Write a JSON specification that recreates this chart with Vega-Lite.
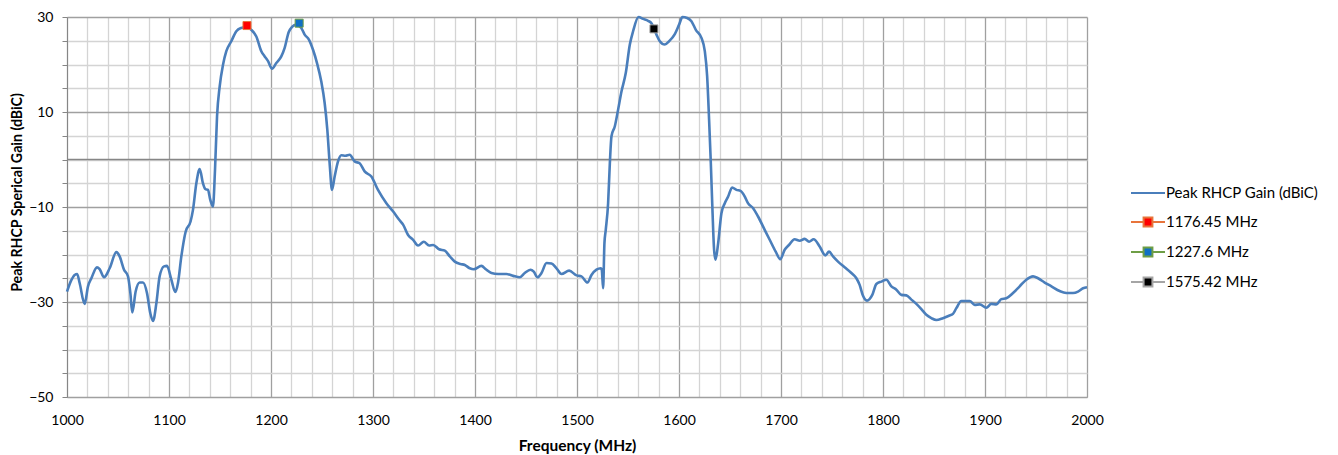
{
  "$schema": "https://vega.github.io/schema/vega-lite/v6.json",
  "width": 1020,
  "height": 380,
  "autosize": {"type": "none"},
  "padding": {"left": 67, "top": 17, "right": 251, "bottom": 58},
  "background": "white",
  "config": {
    "font": "Lato",
    "view": {"stroke": null},
    "axis": {"labelFont": "Lato", "labelFontSize": 14, "labelColor": "#000000", "titleFont": "Lato", "titleFontWeight": "bold", "titleColor": "#000000"}
  },
  "datasets": {
    "gain": [
      {"f":1000,"g":-27.8},{"f":1004,"g":-25.5},{"f":1007.5,"g":-24.3},{"f":1010,"g":-24.1},{"f":1012.4,"g":-26.0},{"f":1017.3,"g":-30.4},{"f":1020.6,"g":-26.7},{"f":1023.9,"g":-25.0},{"f":1029.4,"g":-22.7},{"f":1032,"g":-23.1},{"f":1036.3,"g":-24.8},{"f":1041.8,"g":-22.9},{"f":1048.4,"g":-19.5},{"f":1051.6,"g":-20.4},{"f":1055.9,"g":-23.2},{"f":1059.8,"g":-24.6},{"f":1062.1,"g":-28.1},{"f":1064,"g":-32.2},{"f":1067.3,"g":-27.8},{"f":1071.2,"g":-25.9},{"f":1074.5,"g":-25.9},{"f":1078.4,"g":-28.1},{"f":1081.7,"g":-32.4},{"f":1084.3,"g":-34.0},{"f":1087.6,"g":-30.3},{"f":1090.8,"g":-24.6},{"f":1095.1,"g":-22.5},{"f":1098,"g":-22.4},{"f":1102.3,"g":-25.3},{"f":1106.2,"g":-27.9},{"f":1108.8,"g":-26.0},{"f":1112.1,"g":-20.4},{"f":1116.3,"g":-15.2},{"f":1121.2,"g":-13.0},{"f":1123.5,"g":-10.6},{"f":1126.8,"g":-5.0},{"f":1130.1,"g":-2.0},{"f":1133.3,"g":-5.0},{"f":1135.6,"g":-6.2},{"f":1138.2,"g":-6.4},{"f":1140.5,"g":-8.5},{"f":1143.1,"g":-9.9},{"f":1145.1,"g":-2.2},{"f":1147.1,"g":9.1},{"f":1149.7,"g":15.4},{"f":1153,"g":20.0},{"f":1156.2,"g":22.8},{"f":1161.1,"g":24.9},{"f":1166,"g":27.0},{"f":1170.9,"g":27.7},{"f":1175.8,"g":27.9},{"f":1180.7,"g":27.3},{"f":1185.6,"g":25.9},{"f":1190.5,"g":22.8},{"f":1193.8,"g":21.7},{"f":1197.1,"g":20.7},{"f":1201,"g":19.1},{"f":1205.2,"g":20.3},{"f":1210.1,"g":21.7},{"f":1213.4,"g":23.5},{"f":1217.3,"g":26.8},{"f":1220.6,"g":27.9},{"f":1224.8,"g":28.4},{"f":1229.7,"g":27.7},{"f":1233,"g":26.3},{"f":1237.3,"g":25.2},{"f":1241.2,"g":23.1},{"f":1245.1,"g":20.3},{"f":1249.3,"g":16.4},{"f":1252.6,"g":11.9},{"f":1255.2,"g":6.3},{"f":1257.5,"g":-0.8},{"f":1259.8,"g":-6.4},{"f":1262.4,"g":-3.6},{"f":1265.7,"g":-0.4},{"f":1269,"g":0.9},{"f":1272.9,"g":0.8},{"f":1277.1,"g":1.0},{"f":1282,"g":-0.4},{"f":1286.9,"g":-0.8},{"f":1291.8,"g":-2.5},{"f":1298.4,"g":-3.6},{"f":1304.9,"g":-6.4},{"f":1313.1,"g":-9.2},{"f":1319.6,"g":-10.9},{"f":1326.1,"g":-12.8},{"f":1329.5,"g":-13.7},{"f":1334.4,"g":-15.9},{"f":1339.3,"g":-16.9},{"f":1344.2,"g":-18.1},{"f":1349.8,"g":-17.3},{"f":1355,"g":-18.1},{"f":1359,"g":-18.0},{"f":1364.8,"g":-18.9},{"f":1370.4,"g":-19.2},{"f":1375.3,"g":-20.4},{"f":1380.2,"g":-21.5},{"f":1385.8,"g":-22.0},{"f":1390,"g":-22.2},{"f":1394.9,"g":-22.9},{"f":1398.8,"g":-23.1},{"f":1406.3,"g":-22.4},{"f":1410.6,"g":-23.1},{"f":1416.1,"g":-23.9},{"f":1422.7,"g":-24.1},{"f":1430.8,"g":-24.1},{"f":1437.4,"g":-24.5},{"f":1443.9,"g":-24.8},{"f":1448.8,"g":-23.9},{"f":1454.4,"g":-23.2},{"f":1457.6,"g":-23.6},{"f":1461.2,"g":-24.8},{"f":1465.2,"g":-23.9},{"f":1470.1,"g":-21.8},{"f":1475,"g":-21.9},{"f":1479.9,"g":-22.9},{"f":1484.8,"g":-24.1},{"f":1492.3,"g":-23.4},{"f":1499.5,"g":-24.4},{"f":1504.4,"g":-24.6},{"f":1510.3,"g":-25.9},{"f":1514.2,"g":-24.3},{"f":1519.1,"g":-23.2},{"f":1523.3,"g":-22.9},{"f":1524.3,"g":-23.2},{"f":1525.6,"g":-27.1},{"f":1526.9,"g":-17.6},{"f":1528.2,"g":-14.8},{"f":1530.5,"g":-9.2},{"f":1532.2,"g":-0.8},{"f":1533.8,"g":4.9},{"f":1537.1,"g":7.0},{"f":1540.3,"g":10.5},{"f":1543.6,"g":14.3},{"f":1547.8,"g":18.2},{"f":1551.8,"g":24.2},{"f":1555,"g":27.0},{"f":1560.3,"g":30.0},{"f":1564.8,"g":29.6},{"f":1569.7,"g":29.2},{"f":1573,"g":28.7},{"f":1577.9,"g":26.3},{"f":1581.2,"g":24.9},{"f":1586.1,"g":24.2},{"f":1590.3,"g":24.9},{"f":1595.9,"g":26.4},{"f":1600.1,"g":28.4},{"f":1603.4,"g":30.0},{"f":1608,"g":29.8},{"f":1612.2,"g":29.1},{"f":1616.5,"g":27.3},{"f":1622,"g":25.6},{"f":1625.3,"g":22.8},{"f":1627.6,"g":17.5},{"f":1629.5,"g":8.4},{"f":1631.2,"g":-0.8},{"f":1632.8,"g":-10.6},{"f":1634.4,"g":-19.0},{"f":1635.8,"g":-21.1},{"f":1638.4,"g":-17.6},{"f":1641.6,"g":-11.3},{"f":1644.9,"g":-9.2},{"f":1648.2,"g":-7.8},{"f":1652.1,"g":-5.9},{"f":1656.3,"g":-6.4},{"f":1660.3,"g":-6.6},{"f":1664.5,"g":-7.8},{"f":1667.6,"g":-9.2},{"f":1672.5,"g":-10.2},{"f":1677.5,"g":-12.0},{"f":1684,"g":-14.8},{"f":1688.9,"g":-16.9},{"f":1694.8,"g":-19.4},{"f":1699.3,"g":-21.0},{"f":1703.6,"g":-19.0},{"f":1707.8,"g":-18.0},{"f":1713.4,"g":-16.8},{"f":1718.3,"g":-17.1},{"f":1723.2,"g":-16.7},{"f":1727.5,"g":-17.3},{"f":1732,"g":-16.8},{"f":1737.9,"g":-18.3},{"f":1743.5,"g":-20.2},{"f":1747.1,"g":-19.4},{"f":1751,"g":-20.4},{"f":1755.9,"g":-21.5},{"f":1762.4,"g":-22.7},{"f":1769,"g":-23.9},{"f":1773.9,"g":-25.0},{"f":1777.1,"g":-26.4},{"f":1780.4,"g":-28.7},{"f":1784.3,"g":-29.7},{"f":1789.5,"g":-28.5},{"f":1793.5,"g":-26.2},{"f":1798.4,"g":-25.7},{"f":1803.3,"g":-25.3},{"f":1808.2,"g":-26.7},{"f":1813.1,"g":-27.4},{"f":1818,"g":-28.5},{"f":1822.9,"g":-28.6},{"f":1827.8,"g":-29.5},{"f":1832.7,"g":-30.4},{"f":1837.6,"g":-31.5},{"f":1842.5,"g":-32.7},{"f":1847.4,"g":-33.4},{"f":1852.3,"g":-33.8},{"f":1858.8,"g":-33.4},{"f":1864.7,"g":-32.9},{"f":1868.6,"g":-32.5},{"f":1871.9,"g":-31.3},{"f":1876.8,"g":-29.8},{"f":1885,"g":-29.8},{"f":1889.9,"g":-30.6},{"f":1894.8,"g":-30.5},{"f":1901.3,"g":-31.2},{"f":1906.2,"g":-30.4},{"f":1911.1,"g":-30.5},{"f":1916,"g":-29.4},{"f":1920.9,"g":-29.2},{"f":1927.5,"g":-28.1},{"f":1934,"g":-26.7},{"f":1940.5,"g":-25.3},{"f":1947.1,"g":-24.6},{"f":1952,"g":-25.0},{"f":1958.5,"g":-25.9},{"f":1965.1,"g":-26.7},{"f":1973.2,"g":-27.7},{"f":1979.7,"g":-28.1},{"f":1986.3,"g":-28.1},{"f":1991.2,"g":-27.8},{"f":1996.1,"g":-27.1},{"f":2000,"g":-26.9}
    ],
    "markers": [
      {"f":1176.45,"g":28.2,"series":"1176.45 MHz"},
      {"f":1227.6,"g":28.7,"series":"1227.6 MHz"},
      {"f":1575.42,"g":27.5,"series":"1575.42 MHz"}
    ]
  },
  "encoding": {
    "x": {"field": "f", "type": "quantitative",
      "scale": {"domain": [1000, 2000], "nice": false, "zero": false},
      "axis": {
        "title": "Frequency (MHz)",
        "titleFontSize": 15.5,
        "values": [1000,1020,1040,1060,1080,1100,1120,1140,1160,1180,1200,1220,1240,1260,1280,1300,1320,1340,1360,1380,1400,1420,1440,1460,1480,1500,1520,1540,1560,1580,1600,1620,1640,1660,1680,1700,1720,1740,1760,1780,1800,1820,1840,1860,1880,1900,1920,1940,1960,1980,2000],
        "format": "d",
        "labelExpr": "datum.value % 100 == 0 ? datum.label : ''",
        "labelFlush": false,
        "labelOverlap": false,
        "ticks": false,
        "labelPadding": 16,
        "titlePadding": 11,
        "domainColor": "#a0a0a0",
        "grid": true,
        "gridColor": {"condition": {"test": "datum.value % 100 == 0", "value": "#a0a0a0"}, "value": "#d4d4d4"},
        "gridWidth": 1.3
      }
    },
    "y": {"field": "g", "type": "quantitative",
      "scale": {"domain": [-50, 30], "nice": false, "zero": false},
      "axis": {
        "title": "Peak RHCP Sperical Gain (dBiC)",
        "titleFontSize": 14.2,
        "titleY": 175,
        "values": [-50,-45,-40,-35,-30,-25,-20,-15,-10,-5,0,5,10,15,20,25,30],
        "labelExpr": "(datum.value + 50) % 20 == 0 ? datum.label : ''",
        "labelOverlap": false,
        "labelFlush": false,
        "tickSize": 5,
        "tickColor": "#868686",
        "labelPadding": 9,
        "titlePadding": 4,
        "domainColor": "#868686",
        "grid": true,
        "gridColor": {"condition": {"test": "(datum.value + 50) % 20 == 0", "value": "#a0a0a0"}, "value": "#d4d4d4"},
        "gridWidth": 1.3
      }
    }
  },
  "layer": [
    {
      "data": {"values": [{"g": 0}]},
      "mark": {"type": "rule", "color": "#868686", "strokeWidth": 1.3},
      "encoding": {"x": null}
    },
    {
      "data": {"name": "gain"},
      "mark": {"type": "line", "interpolate": "monotone", "color": "#4A7EBB", "strokeWidth": 2.6}
    },
    {
      "data": {"name": "markers"},
      "transform": [{"filter": "datum.series == '1176.45 MHz'"}],
      "mark": {"type": "point", "shape": "square", "filled": true, "size": 64, "strokeWidth": 1, "opacity": 1, "fill": "#FF0000", "stroke": "#E8743B"}
    },
    {
      "data": {"name": "markers"},
      "transform": [{"filter": "datum.series == '1227.6 MHz'"}],
      "mark": {"type": "point", "shape": "square", "filled": true, "size": 64, "strokeWidth": 1, "opacity": 1, "fill": "#0F6FC6", "stroke": "#6E9E45"}
    },
    {
      "data": {"name": "markers"},
      "transform": [{"filter": "datum.series == '1575.42 MHz'"}],
      "mark": {"type": "point", "shape": "square", "filled": true, "size": 64, "strokeWidth": 1, "opacity": 1, "fill": "#000000", "stroke": "#A5A5A5"}
    },
    {
      "data": {"name": "markers"},
      "mark": {"type": "point", "filled": true, "opacity": 0, "size": 1156, "strokeWidth": 2},
      "encoding": {
        "fill": {"field": "series", "type": "nominal",
          "scale": {"domain": ["Peak RHCP Gain (dBiC)", "1176.45 MHz", "1227.6 MHz", "1575.42 MHz"], "range": ["#4A7EBB", "#FF0000", "#0F6FC6", "#000000"]},
          "legend": {"title": null, "orient": "none", "legendX": 1063, "legendY": 158, "symbolSize": 1156, "symbolStrokeWidth": 2, "symbolOpacity": 1, "symbolFillColor": "transparent", "symbolStrokeColor": "transparent", "labelFont": "Lato", "labelFontSize": 15, "labelColor": "#000000", "labelOffset": 0, "rowPadding": 3, "padding": 0}},
        "stroke": {"field": "series", "type": "nominal",
          "scale": {"domain": ["Peak RHCP Gain (dBiC)", "1176.45 MHz", "1227.6 MHz", "1575.42 MHz"], "range": ["#4A7EBB", "#E8743B", "#6E9E45", "#A5A5A5"]},
          "legend": {"title": null, "orient": "none", "legendX": 1063, "legendY": 158, "symbolSize": 1156, "symbolStrokeWidth": 2, "symbolOpacity": 1, "symbolFillColor": "transparent", "symbolStrokeColor": "transparent", "labelFont": "Lato", "labelFontSize": 15, "labelColor": "#000000", "labelOffset": 0, "rowPadding": 3, "padding": 0}},
        "shape": {"field": "series", "type": "nominal",
          "scale": {"domain": ["Peak RHCP Gain (dBiC)", "1176.45 MHz", "1227.6 MHz", "1575.42 MHz"],
            "range": ["M-1,0L1,0", "M-1,0L-0.26,0M0.26,0L1,0M-0.26,-0.26L0.26,-0.26L0.26,0.26L-0.26,0.26Z", "M-1,0L-0.26,0M0.26,0L1,0M-0.26,-0.26L0.26,-0.26L0.26,0.26L-0.26,0.26Z", "M-1,0L-0.26,0M0.26,0L1,0M-0.26,-0.26L0.26,-0.26L0.26,0.26L-0.26,0.26Z"]},
          "legend": {"title": null, "orient": "none", "legendX": 1063, "legendY": 158, "symbolSize": 1156, "symbolStrokeWidth": 2, "symbolOpacity": 1, "symbolFillColor": "transparent", "symbolStrokeColor": "transparent", "labelFont": "Lato", "labelFontSize": 15, "labelColor": "#000000", "labelOffset": 0, "rowPadding": 3, "padding": 0}}
      }
    }
  ]
}
